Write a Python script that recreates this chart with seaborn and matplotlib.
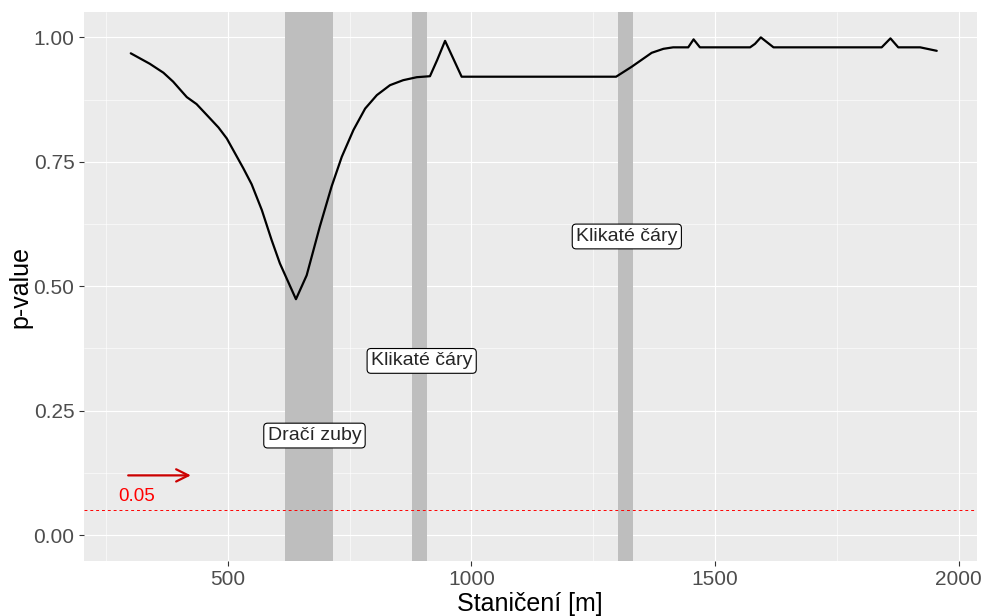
import numpy as np
import pandas as pd
import matplotlib
matplotlib.use("Agg")
import matplotlib.pyplot as plt
import seaborn as sns

# ---- data ----
station = [301, 340, 368, 388, 406, 416, 436, 460, 481, 498, 515, 532, 549, 570, 590,
           607, 640, 662, 689, 713, 734, 758, 782, 806, 833, 860, 888, 915, 930, 946, 980,
           1297, 1329, 1370, 1394, 1414, 1445, 1456, 1469, 1572, 1582, 1594, 1620,
           1842, 1860, 1876, 1921, 1955]
pvalue = [0.968, 0.947, 0.929, 0.911, 0.891, 0.880, 0.866, 0.841, 0.819, 0.797,
          0.767, 0.737, 0.705, 0.653, 0.593, 0.546, 0.474, 0.522, 0.620, 0.700,
          0.760, 0.814, 0.857, 0.884, 0.904, 0.914, 0.920, 0.922, 0.955, 0.993, 0.921,
          0.921, 0.941, 0.969, 0.977, 0.980, 0.980, 0.996, 0.980, 0.980, 0.987,
          1.000, 0.980, 0.980, 0.998, 0.980, 0.980, 0.973]

zone_start = [617, 878, 1301]
zone_end = [715, 908, 1332]
zone_label = ["Dračí zuby", "Klikaté čáry", "Klikaté čáry"]
label_x = [678, 898, 1319]
label_y = [0.20, 0.35, 0.60]

threshold = 0.05
threshold_text = "0.05"
arrow_x = [290, 430]
arrow_y = 0.12
text_pos = (314, 0.077)

x_ticks = [500, 1000, 1500, 2000]
y_ticks = [0.00, 0.25, 0.50, 0.75, 1.00]
y_ticklabels = ["0.00", "0.25", "0.50", "0.75", "1.00"]

df = pd.DataFrame({"station": station, "p": pvalue})

# ---- style ----
sns.set_theme(style="darkgrid")
plt.rcParams["font.family"] = ["Liberation Sans", "DejaVu Sans"]

fig = plt.figure(figsize=(9.84, 6.16), dpi=100)
ax = fig.add_axes([83.5 / 984, 1 - 561 / 616, (976.7 - 83.5) / 984, (561 - 12) / 616])
ax.set_facecolor("#EBEBEB")

# shaded zones
for s, e in zip(zone_start, zone_end):
    ax.axvspan(s, e, color="#BEBEBE", lw=0, zorder=1)

sns.lineplot(data=df, x="station", y="p", ax=ax, color="black", lw=1.6, zorder=3)

ax.axhline(threshold, color="#FF0000", ls=(0, (3, 3)), lw=0.7, zorder=2)

ax.annotate("", xy=(arrow_x[1], arrow_y), xytext=(arrow_x[0], arrow_y),
            arrowprops=dict(arrowstyle="->", color="#CC0000", lw=1.6,
                            mutation_scale=22), zorder=4)
ax.text(text_pos[0], text_pos[1], threshold_text, color="#FF0000", fontsize=13.5,
        ha="center", va="center", zorder=4)

for lx, lab, ly in zip(label_x, zone_label, label_y):
    ax.text(lx, ly, lab, fontsize=14, ha="center", va="center", zorder=5,
            bbox=dict(boxstyle="round,pad=0.2,rounding_size=0.2", fc="white",
                      ec="black", lw=0.8))

ax.set_xlim(204, 2037)
ax.set_ylim(-0.052, 1.051)
ax.set_xticks(x_ticks)
ax.set_yticks(y_ticks)
ax.set_yticklabels(y_ticklabels)
ax.set_xticks([250, 750, 1250, 1750], minor=True)
ax.set_yticks([0.125, 0.375, 0.625, 0.875], minor=True)
ax.grid(which="major", color="white", lw=0.8)
ax.grid(which="minor", color="white", lw=0.4)
ax.set_axisbelow(True)
for sp in ax.spines.values():
    sp.set_visible(False)

ax.tick_params(axis="both", which="major", length=3.5, width=0.8, color="#333333",
               labelsize=15, labelcolor="#4D4D4D", pad=3, direction="out",
               bottom=True, left=True)
ax.tick_params(axis="both", which="minor", length=0)

ax.set_xlabel("Staničení [m]", fontsize=18, color="black", labelpad=2)
ax.set_ylabel("p-value", fontsize=18, color="black", labelpad=0.5)

fig.savefig("out.png", dpi=100, facecolor="white")
